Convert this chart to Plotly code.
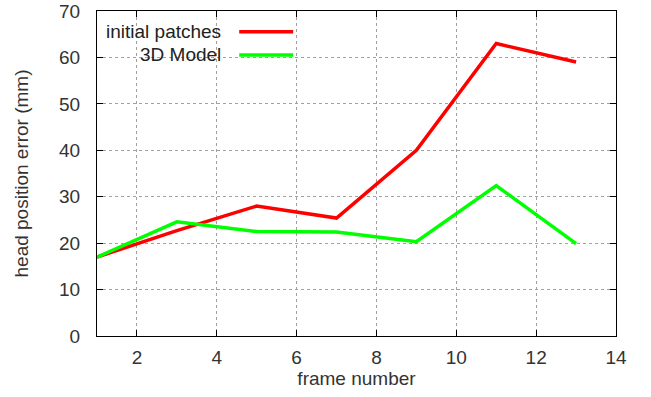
import plotly.graph_objects as go

frames = [1, 3, 5, 7, 9, 11, 13]
initial_patches = [17, 22.7, 28, 25.4, 40, 63, 59]
model_3d = [17, 24.6, 22.5, 22.4, 20.3, 32.4, 19.9]
series_names = ["initial patches", "3D Model"]
series_colors = ["#ff0000", "#00ff00"]

font = "Liberation Sans, Arial, sans-serif"
fig = go.Figure()
for name, ys, col in zip(series_names, [initial_patches, model_3d], series_colors):
    fig.add_trace(go.Scatter(x=frames, y=ys, mode="lines", name=name,
                             line=dict(color=col, width=3.5), showlegend=False))

# gnuplot-style legend: text then line sample
for i, (name, col) in enumerate(zip(series_names, series_colors)):
    yy = 0.936 - i * 0.071
    fig.add_annotation(xref="paper", yref="paper", x=0.243, y=yy, text=name,
                       showarrow=False, xanchor="right", yanchor="middle",
                       font=dict(family=font, size=19, color="#222"))
    fig.add_shape(type="line", xref="paper", yref="paper", x0=0.274, x1=0.378,
                  y0=yy, y1=yy, line=dict(color=col, width=3.5))

axis_common = dict(showline=True, linecolor="black", linewidth=1, mirror="ticks",
                   ticks="inside", ticklen=6, tickcolor="black", automargin=False,
                   showgrid=True, gridcolor="#a0a0a0", griddash="dot", gridwidth=1,
                   zeroline=False,
                   tickfont=dict(family=font, size=19, color="#333"))
fig.update_xaxes(range=[1, 14], tickvals=[2, 4, 6, 8, 10, 12, 14], ticklabelstandoff=4,
                 title=dict(text="frame number", standoff=4,
                            font=dict(family=font, size=19, color="#333")),
                 **axis_common)
fig.update_yaxes(range=[0, 70], tickvals=[0, 10, 20, 30, 40, 50, 60, 70], ticklabelstandoff=12,
                 title=dict(text="head position error (mm)", standoff=25,
                            font=dict(family=font, size=19, color="#333")),
                 **axis_common)
fig.update_layout(width=651, height=397, plot_bgcolor="white", paper_bgcolor="white",
                  margin=dict(l=97, r=35, t=11, b=61))
fig.write_html("out.html", config={"displayModeBar": False},
               post_script="document.body.style.margin='0';document.body.style.overflow='hidden';")
